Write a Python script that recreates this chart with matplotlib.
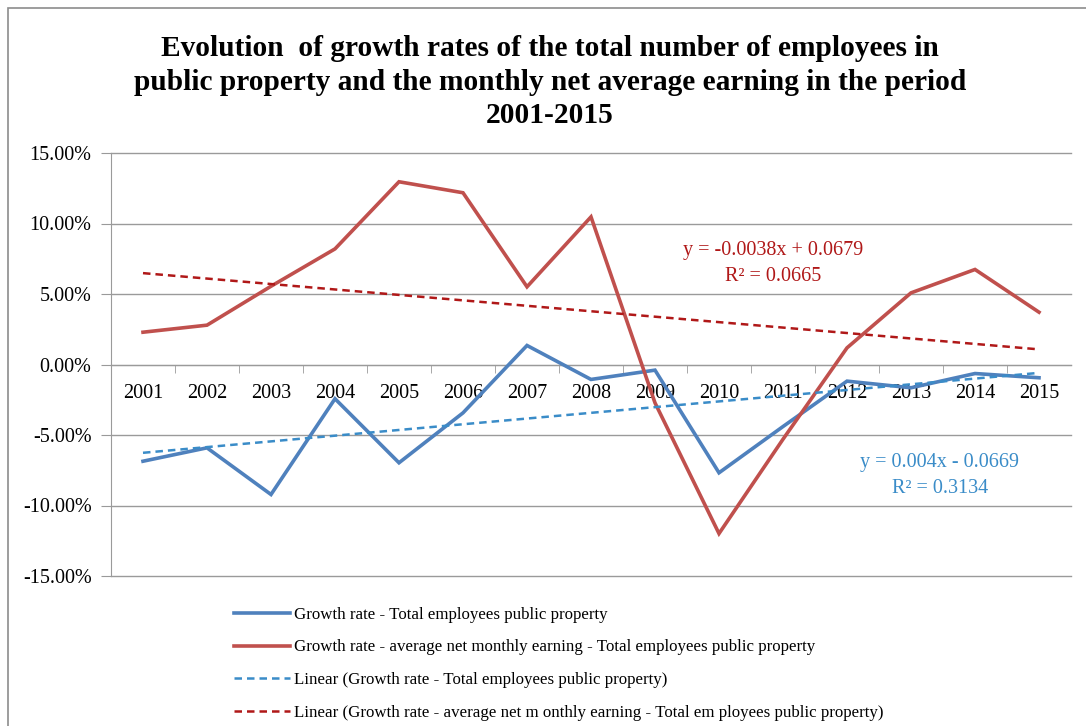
import numpy as np
import matplotlib.pyplot as plt
from matplotlib.lines import Line2D
from matplotlib.patches import Rectangle
from matplotlib.ticker import FuncFormatter, FixedLocator

# datos
anios = [2001, 2002, 2003, 2004, 2005, 2006, 2007, 2008,
         2009, 2010, 2011, 2012, 2013, 2014, 2015]
tasa_empleados = [-6.86, -5.91, -9.22, -2.43, -6.97, -3.43, 1.35, -1.06,
                  -0.40, -7.68, -4.40, -1.18, -1.65, -0.64, -0.94]
tasa_salario = [2.29, 2.79, 5.55, 8.20, 12.96, 12.18, 5.51, 10.47,
                -2.72, -11.99, -5.30, 1.18, 5.08, 6.74, 3.71]
ticks_y = [-15, -10, -5, 0, 5, 10, 15]

nombres = ["Growth rate - Total employees public property",
           "Growth rate - average net monthly earning - Total employees public property",
           "Linear (Growth rate - Total employees public property)",
           "Linear (Growth rate - average net m onthly earning - Total em ployees public property)"]
ecuaciones = ["y = 0.004x - 0.0669\nR\u00b2 = 0.3134",
              "y = -0.0038x + 0.0679\nR\u00b2 = 0.0665"]

titulo = ("Evolution  of growth rates of the total number of employees in\n"
          "public property and the monthly net average earning in the period\n"
          "2001-2015")

AZUL = "#4F81BD"
ROJO = "#C0504D"
AZUL_T = "#3A8CC8"
ROJO_T = "#B01818"
GRIS = "#9A9A9A"

plt.rcParams['font.family'] = ['Liberation Serif', 'DejaVu Serif']

fig = plt.figure(figsize=(10.86, 7.26), dpi=100)
fig.patches.append(Rectangle((8 / 1086, -0.1), 1.2, 1 - 8 / 726 + 0.1,
                             transform=fig.transFigure, fill=False,
                             edgecolor="#8C8C8C", linewidth=1.2))

ax = fig.add_axes([111 / 1086, 1 - 576 / 726, 960 / 1086, 423 / 726])

x = np.arange(len(anios))
emp = np.array(tasa_empleados) / 100
sal = np.array(tasa_salario) / 100

# tendencias lineales (x = 1..15 como en Excel)
xx = x + 1
p_emp = np.polyfit(xx, emp, 1)
p_sal = np.polyfit(xx, sal, 1)

ax.plot(x, emp, color=AZUL, lw=2.6, zorder=4, solid_joinstyle='miter')
ax.plot(x, sal, color=ROJO, lw=2.6, zorder=4, solid_joinstyle='miter')
ax.plot(x, np.polyval(p_emp, xx), color=AZUL_T, lw=1.8, ls=(0, (3, 2)), zorder=5)
ax.plot(x, np.polyval(p_sal, xx), color=ROJO_T, lw=1.8, ls=(0, (3, 2)), zorder=5)

ax.set_xlim(-0.5, len(anios) - 0.5)
ax.set_ylim(-0.15, 0.15)
yt = np.array(ticks_y) / 100
ax.set_yticks(yt)
ax.yaxis.set_major_formatter(FuncFormatter(lambda v, p: f"{v * 100:.2f}%"))
for v in yt:
    ax.axhline(v, color=GRIS, lw=1.0, zorder=1, clip_on=False)

for s in ['top', 'right']:
    ax.spines[s].set_visible(False)
ax.spines['left'].set_color(GRIS)
ax.spines['bottom'].set_position(('data', 0))
ax.spines['bottom'].set_color(GRIS)

ax.set_xticks(x)
ax.set_xticklabels([str(a) for a in anios], fontsize=14.5)
ax.tick_params(axis='x', which='major', length=0, pad=14)
ax.xaxis.set_minor_locator(FixedLocator(x[:-1] + 0.5))
ax.tick_params(axis='x', which='minor', length=6, color=GRIS, direction='out')
ax.tick_params(axis='y', length=7, color=GRIS, labelsize=14.5, pad=7)

ax.text(9.84, 0.0717, ecuaciones[1], color=ROJO_T, fontsize=14.5,
        ha='center', va='center', linespacing=1.5)
ax.text(12.45, -0.0784, ecuaciones[0], color=AZUL_T, fontsize=14.5,
        ha='center', va='center', linespacing=1.5,
        bbox=dict(facecolor='white', edgecolor='none', pad=1))

fig.text(550 / 1086, 1 - 82 / 726, titulo, ha='center', va='center',
         fontsize=21.2, fontweight='bold', linespacing=1.33)

manejadores = [Line2D([], [], color=AZUL, lw=2.6),
               Line2D([], [], color=ROJO, lw=2.6),
               Line2D([], [], color=AZUL_T, lw=1.8, ls=(0, (3, 2))),
               Line2D([], [], color=ROJO_T, lw=1.8, ls=(0, (3, 2)))]
fig.legend(manejadores, nombres, loc='upper left',
           bbox_to_anchor=(222 / 1086, 1 - 595 / 726), frameon=False,
           fontsize=12.2, handlelength=3.3, handletextpad=0.25,
           labelspacing=0.98, borderpad=0.2)

fig.savefig("out.png", dpi=100)
